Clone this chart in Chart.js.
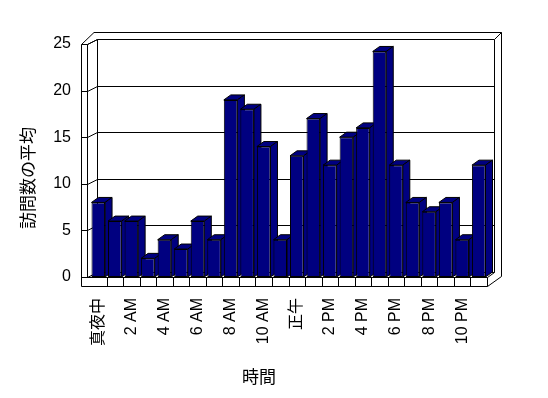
<!DOCTYPE html>
<html>
<head>
<meta charset="utf-8">
<script src="https://cdn.jsdelivr.net/npm/chart.js@4.4.0/dist/chart.umd.min.js"></script>
<style>
  html, body { margin: 0; padding: 0; background: #fff; }
</style>
</head>
<body>
<canvas id="visitsChart" width="548" height="398"></canvas>
<script>
const hours = ["真夜中", "1 AM", "2 AM", "3 AM", "4 AM", "5 AM", "6 AM", "7 AM", "8 AM", "9 AM", "10 AM", "11 AM",
               "正午", "1 PM", "2 PM", "3 PM", "4 PM", "5 PM", "6 PM", "7 PM", "8 PM", "9 PM", "10 PM", "11 PM"];
const avgVisits = [8, 6, 6, 2, 4, 3, 6, 4, 19, 18, 14, 4, 13, 17, 12, 15, 16, 24.2, 12, 8, 7, 8, 4, 12];
const yTicks = [0, 5, 10, 15, 20, 25];
const yTitle = "訪問数の平均";
const xTitle = "時間";

Chart.defaults.color = "#000";
Chart.defaults.font.family = "'Liberation Sans', 'Noto Sans CJK JP', sans-serif";
Chart.defaults.font.size = 16;

const DX = 7, DY = -5; // depth offset of the fake 3d box

function line(ctx, x1, y1, x2, y2) {
    ctx.beginPath();
    ctx.moveTo(x1, y1);
    ctx.lineTo(x2, y2);
    ctx.stroke();
}

// walls, floor, back gridlines and the top/side faces of the bars
const box3d = {
    id: "box3d",
    beforeDatasetsDraw(chart) {
        const ctx = chart.ctx;
        const xs = chart.scales.x, ys = chart.scales.y;
        const area = chart.chartArea;
        const yTop = Math.round(ys.getPixelForValue(yTicks[yTicks.length - 1])) + 0.5;
        const yBase = Math.round(ys.getPixelForValue(0)) + 0.5;
        const wallOut = Math.round(area.left) - 8.5;
        const wallIn = Math.round(area.left) - 2.5;
        const bl = Math.round(area.left) + DX + 0.5;
        const br = Math.round(area.right) + DX + 0.5;
        const fr = Math.round(area.right) + 0.5;
        const bt = yTop + DY, bb = yBase + DY;
        const outTop = bt - 7, outRight = br + 7;
        const floorBottom = yBase + 9;

        ctx.save();
        ctx.strokeStyle = "#000";
        ctx.lineWidth = 1;

        // gridlines on the back wall + ticks across the left wall
        yTicks.forEach(v => {
            const yf = Math.round(ys.getPixelForValue(v)) + 0.5;
            if (v > 0 && v < yTicks[yTicks.length - 1]) line(ctx, bl, yf + DY, br, yf + DY);
            line(ctx, wallOut, yf, wallIn, yf);
            line(ctx, wallIn, yf, bl, yf + DY);
        });

        // back wall
        line(ctx, bl, bt, br, bt);
        line(ctx, br, bt, br, bb);
        line(ctx, bl, bt, bl, bb);
        line(ctx, bl, bb, br, bb);
        // outer rim
        line(ctx, wallOut, yTop, bl - 3.5, outTop);
        line(ctx, bl - 3.5, outTop, outRight, outTop);
        line(ctx, br, bt, outRight, outTop);
        line(ctx, outRight, outTop, outRight, floorBottom - 10);
        line(ctx, wallIn, yTop, bl, bt);
        // left wall
        line(ctx, wallOut, yTop, wallOut, floorBottom);
        line(ctx, wallIn, yTop, wallIn, yBase);
        // floor
        line(ctx, wallOut, yBase, fr, yBase);
        line(ctx, wallOut, floorBottom, fr, floorBottom);
        line(ctx, fr, yBase, fr, floorBottom);
        line(ctx, fr, yBase, br, bb);
        line(ctx, fr, floorBottom, outRight, floorBottom - 10);
        for (let i = 1; i < hours.length; i++) {
            const xb = Math.round((xs.getPixelForValue(i - 1) + xs.getPixelForValue(i)) / 2) + 0.5;
            line(ctx, xb, yBase, xb, floorBottom);
        }

        // bar tops and sides
        ctx.fillStyle = "#000080";
        chart.getDatasetMeta(0).data.forEach(bar => {
            const p = bar.getProps(["x", "y", "base", "width"], true);
            const l = p.x - p.width / 2, r = p.x + p.width / 2;
            ctx.beginPath();
            ctx.moveTo(l, p.y);
            ctx.lineTo(r, p.y);
            ctx.lineTo(r + DX, p.y + DY);
            ctx.lineTo(l + DX, p.y + DY);
            ctx.closePath();
            ctx.fill();
            ctx.stroke();
            ctx.beginPath();
            ctx.moveTo(r, p.y);
            ctx.lineTo(r + DX, p.y + DY);
            ctx.lineTo(r + DX, p.base + DY);
            ctx.lineTo(r, p.base);
            ctx.closePath();
            ctx.fill();
            ctx.stroke();
        });
        ctx.restore();
    },
    afterDraw(chart) {
        const ctx = chart.ctx;
        ctx.save();
        ctx.fillStyle = "#000";
        ctx.font = "17px 'Noto Sans CJK JP', sans-serif";
        ctx.textAlign = "center";
        ctx.textBaseline = "middle";
        ctx.fillText(xTitle, 259, 377);
        ctx.translate(28, 178);
        ctx.rotate(-Math.PI / 2);
        ctx.fillText(yTitle, 0, 0);
        ctx.restore();
    }
};

const ctx = document.getElementById("visitsChart").getContext("2d");
new Chart(ctx, {
    type: "bar",
    data: {
        labels: hours,
        datasets: [
            {
                label: yTitle,
                data: avgVisits,
                backgroundColor: "#000080",
                borderColor: "#000",
                borderWidth: 1,
                borderSkipped: false,
                barPercentage: 0.82,
                categoryPercentage: 1,
            },
        ],
    },
    options: {
        responsive: false,
        animation: false,
        layout: { padding: { left: 0, top: 44, right: 61, bottom: 0 } },
        plugins: { legend: { display: false }, tooltip: { enabled: false } },
        scales: {
            x: {
                grid: { display: false, drawTicks: false },
                border: { display: false },
                ticks: {
                    autoSkip: false,
                    maxRotation: 90,
                    minRotation: 90,
                    padding: 21,
                    callback: (v, i) => (i % 2 === 0 ? hours[i] : ""),
                },
                afterFit: s => { s.height = 121; },
            },
            y: {
                min: 0,
                max: 25,
                grid: { display: false, drawTicks: false },
                border: { display: false },
                ticks: { stepSize: 5, padding: 19 },
                afterFit: s => { s.width = 90; },
            },
        },
    },
    plugins: [box3d],
});
</script>
</body>
</html>
